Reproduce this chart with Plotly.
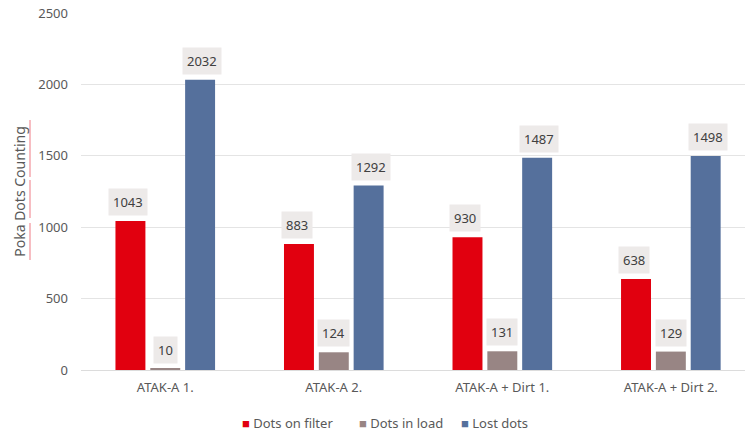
import plotly.graph_objects as go

categories = ["ATAK-A 1.", "ATAK-A 2.", "ATAK-A + Dirt 1.", "ATAK-A + Dirt 2."]
series_names = ["Dots on filter", "Dots in load", "Lost dots"]
dots_on_filter = [1043, 883, 930, 638]
dots_in_load = [10, 124, 131, 129]
lost_dots = [2032, 1292, 1487, 1498]
y_ticks = [0, 500, 1000, 1500, 2000, 2500]

series_values = [dots_on_filter, dots_in_load, lost_dots]
colors = ["#E1000F", "#988584", "#55709C"]

FONT = "Noto Sans, Segoe UI, sans-serif"
TEXT = "#595959"

fig = go.Figure()
for name, vals, col in zip(series_names, series_values, colors):
    fig.add_trace(go.Bar(
        x=categories, y=vals, name=name, marker=dict(color=col, line=dict(width=0)),
        showlegend=False,
    ))

# value callouts sitting just above each bar, offset to the bar's slot in its group
offsets = [-37, 0, 37]
for vals, dx in zip(series_values, offsets):
    for cat, v in zip(categories, vals):
        fig.add_annotation(
            x=cat, y=v, xref="x", yref="y", text=str(v), showarrow=False,
            xshift=dx, yshift=5, yanchor="bottom", xanchor="center",
            bgcolor="#EDEAE9", borderpad=4,
            font=dict(family=FONT, size=13, color="#404040"),
        )

# hand-laid legend along the bottom
legend_x = [240, 357, 459]
for name, col, px in zip(series_names, colors, legend_x):
    fig.add_annotation(
        x=(px - 81) / 664, y=-0.148, xref="paper", yref="paper",
        text=f'<span style="color:{col}">■</span> {name}', showarrow=False,
        xanchor="left", yanchor="middle",
        font=dict(family=FONT, size=13, color=TEXT),
    )

# spell-check style underline beside the axis title words
for y0, y1 in [(120, 177), (180, 218), (223, 260)]:
    fig.add_shape(
        type="line", xref="paper", yref="paper",
        x0=(30 - 81) / 664, x1=(30 - 81) / 664,
        y0=(370 - y1) / 357, y1=(370 - y0) / 357,
        line=dict(color="#F4A7AE", width=1.5),
    )

fig.update_layout(
    width=745, height=436,
    margin=dict(l=81, r=0, t=13, b=66),
    paper_bgcolor="white", plot_bgcolor="white",
    barmode="group", bargap=0.38, bargroupgap=0.14,
    font=dict(family=FONT, size=13, color=TEXT),
)
fig.update_xaxes(
    range=[-0.5, 3.44], showgrid=False, showline=False, ticks="",
    tickfont=dict(family=FONT, size=13, color=TEXT), ticklabelstandoff=8,
)
fig.update_yaxes(
    range=[0, 2500], tickvals=y_ticks, showgrid=True, gridcolor="#E4E4E4", gridwidth=1,
    zeroline=True, zerolinecolor="#DCDCDC", zerolinewidth=1, showline=False, ticks="",
    tickfont=dict(family=FONT, size=13, color=TEXT), ticklabelstandoff=12,
    title=dict(text="Poka Dots Counting", standoff=9,
               font=dict(family=FONT, size=14, color=TEXT)),
    automargin=False,
)

fig.write_html("out.html")
